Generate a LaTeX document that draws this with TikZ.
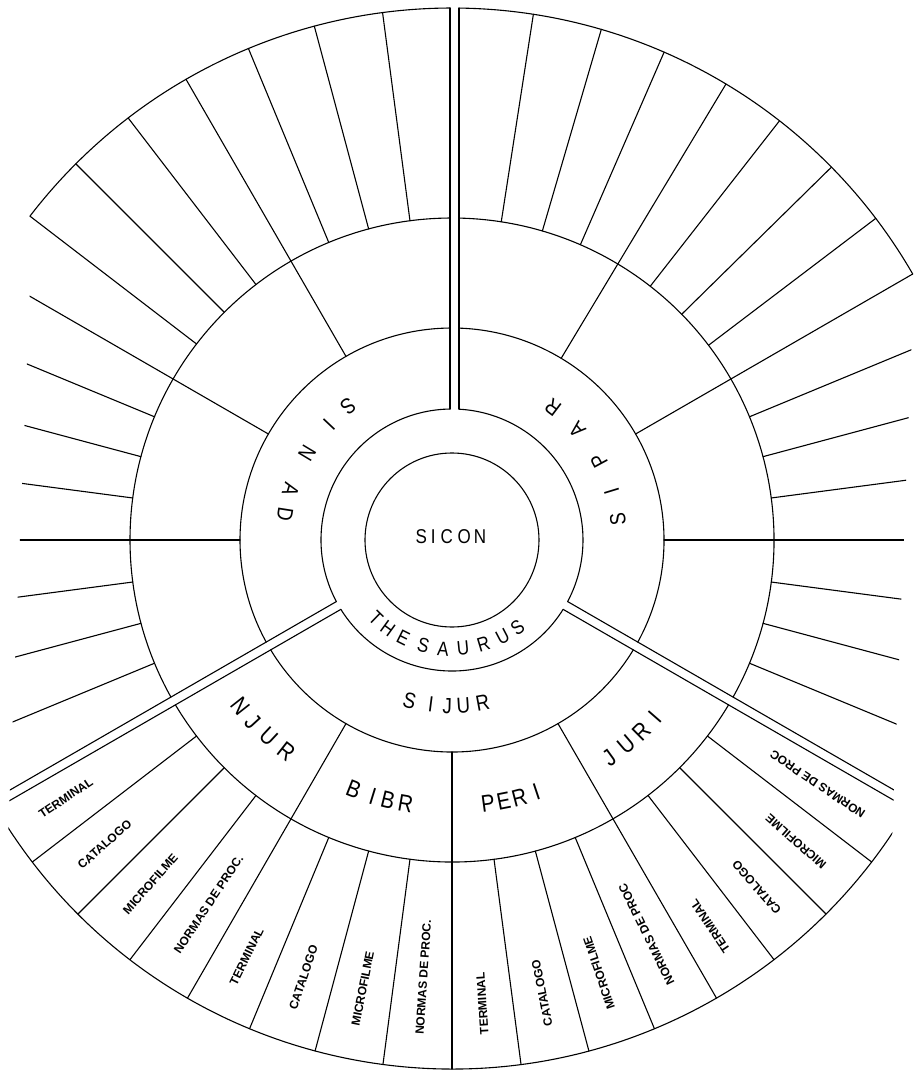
\documentclass[tikz,border=0pt]{standalone}
\usepackage{fontspec}
\setmainfont{Liberation Sans}
\newfontfamily\letf[FakeStretch=0.85]{Liberation Sans}
\usetikzlibrary{calc}
\begin{document}
\begin{tikzpicture}[x=1pt,y=1pt,line width=1.1pt,line cap=round,line join=round,
  cell/.style={font=\bfseries\fontsize{12}{13}\selectfont,inner sep=0pt,anchor=west},
  ltc/.style={font=\letf\fontsize{20}{22}\selectfont,inner sep=0pt},
  ltt/.style={font=\letf\fontsize{20}{22}\selectfont,inner sep=0pt},
  lt3/.style={font=\letf\fontsize{22}{24}\selectfont,inner sep=0pt},
  lt4/.style={font=\letf\fontsize{24}{26}\selectfont,inner sep=0pt}]
\useasboundingbox (-452,-532) rectangle (471,540);

% centre circle
\draw (0,0) circle[radius=87];

% sector arcs (gaps at the three channels)
\foreach \R in {131,212,322}{
  \pgfmathsetmacro\sa{-30+asin(4.5/\R)}
  \pgfmathsetmacro\sb{90-asin(7/\R)}
  \draw (\sa:\R) arc[start angle=\sa,end angle=\sb,radius=\R];
  \pgfmathsetmacro\sa{90+asin(2/\R)}
  \pgfmathsetmacro\sb{210-asin(4.5/\R)}
  \draw (\sa:\R) arc[start angle=\sa,end angle=\sb,radius=\R];
  \pgfmathsetmacro\sa{210+asin(4.5/\R)}
  \pgfmathsetmacro\sb{330-asin(4.5/\R)}
  \draw (\sa:\R) arc[start angle=\sa,end angle=\sb,radius=\R];
}

% outer arcs of the upper sectors
\pgfmathsetmacro\ea{90-asin(7/532)}
\draw (30:532) arc[start angle=30,end angle=\ea,radius=532];
\pgfmathsetmacro\eb{90+asin(2/532)}
\draw (\eb:532) arc[start angle=\eb,end angle=142.5,radius=532];

% top channel
\draw (-2,131) -- (-2,532);
\draw (7,131) -- (7,532);

% spokes ending on the upper outer arc
\foreach \t in {120,59,30}{\draw (\t:212) -- (\t:532);}
\foreach \t in {97.5,105,112.5,127.5,135,142.5,81.2,73.7,66.5,52,44.5,37.2}{\draw (\t:322) -- (\t:532);}

\begin{scope}
\clip (-408,600) -- (475.4,600) -- (428.2,-600) -- (-456.2,-600) -- cycle;
% lower channels
\begin{scope}[rotate=210]
  \draw (131,4.5) -- (640,4.5);
  \draw (131,-4.5) -- (640,-4.5);
\end{scope}
\begin{scope}[rotate=330]
  \draw (131,4.5) -- (640,4.5);
  \draw (131,-4.5) -- (640,-4.5);
\end{scope}
% open spokes on the sides
\foreach \t in {150,180,0}{\draw (\t:212) -- (\t:640);}
\foreach \t in {157.5,165,172.5,187.5,195,202.5,22.5,15,7.5,-7.5,-15,-22.5}{\draw (\t:322) -- (\t:640);}
% SIJUR outer ring
\foreach \t in {240,270,300}{\draw (\t:212) -- (\t:529);}
\foreach \t in {217.5,225,232.5,247.5,255,262.5,277.5,285,292.5,307.5,315,322.5}{\draw (\t:322) -- (\t:529);}
\pgfmathsetmacro\ec{210+asin(4.5/529)}
\pgfmathsetmacro\ed{330-asin(4.5/529)}
\draw (\ec:529) arc[start angle=\ec,end angle=\ed,radius=529];
\end{scope}

% SICON
\foreach \c/\x [count=\i] in {S/-30.7,I/-18.7,C/-5.3,O/12.2,N/28}
  \node[ltc] (sicon\i) at (\x,3.5) {\c};

% THESAURUS
\foreach \c/\a [count=\i, evaluate=\a as \r using \a+90] in
  {T/225.8,H/234,E/243.4,S/254.8,A/265.3,U/275.8,R/286.8,U/297.7,S/306.9}
  \node[ltt,rotate=\r] (thes\i) at (\a:109) {\c};

% ring 3
\foreach \c/\a [count=\i, evaluate=\a as \r using \a+90] in
  {S/127.9,I/136.7,N/149,A/162.6,D/171.1}
  \node[lt3,rotate=\r] (sinad\i) at (\a:169) {\c};
\foreach \c/\a [count=\i, evaluate=\a as \r using \a+90] in
  {S/7,I/17,P/28.4,A/41.5,R/52.8}
  \node[lt3,rotate=\r] (sipar\i) at (\a:167) {\c};
\foreach \c/\a [count=\i, evaluate=\a as \r using \a+90] in
  {S/255.2,I/262.7,J/268.4,U/273.9,R/280.6}
  \node[lt3,rotate=\r] (sijur\i) at (\a:166) {\c};

% ring 4
\foreach \c/\a [count=\i, evaluate=\a as \r using \a+90] in
  {N/218.2,J/222.4,U/227,R/232}
  \node[lt4,rotate=\r] (njur\i) at (\a:269) {\c};
\foreach \c/\a [count=\i, evaluate=\a as \r using \a+90] in
  {B/248.5,I/252.8,B/256.2,R/260}
  \node[lt4,rotate=\r] (bibr\i) at (\a:268) {\c};
\foreach \c/\a [count=\i, evaluate=\a as \r using \a+90] in
  {P/277.8,E/281.2,R/284.7,I/288.5}
  \node[lt4,rotate=\r] (peri\i) at (\a:266) {\c};
\foreach \c/\a [count=\i, evaluate=\a as \r using \a+90] in
  {J/305.8,U/310.4,R/314.7,I/318.9}
  \node[lt4,rotate=\r] (juri\i) at (\a:269) {\c};

% ring 5 labels
\foreach \t/\txt [count=\i, evaluate=\t as \r using \t+180] in
  {213.75/TERMINAL,221.25/CATALOGO,228.75/MICROFILME,236.25/NORMAS DE PROC.,
   243.75/TERMINAL,251.25/CATALOGO,258.75/MICROFILME,266.25/NORMAS DE PROC.,
   273.75/TERMINAL,281.25/CATALOGO,288.75/MICROFILME,296.25/NORMAS DE PROC,
   303.75/TERMINAL,311.25/CATALOGO,318.75/MICROFILME,326.25/NORMAS DE PROC}
  \node[cell,rotate=\r] (lab\i) at (\t:496) {\txt};
\end{tikzpicture}
\end{document}
